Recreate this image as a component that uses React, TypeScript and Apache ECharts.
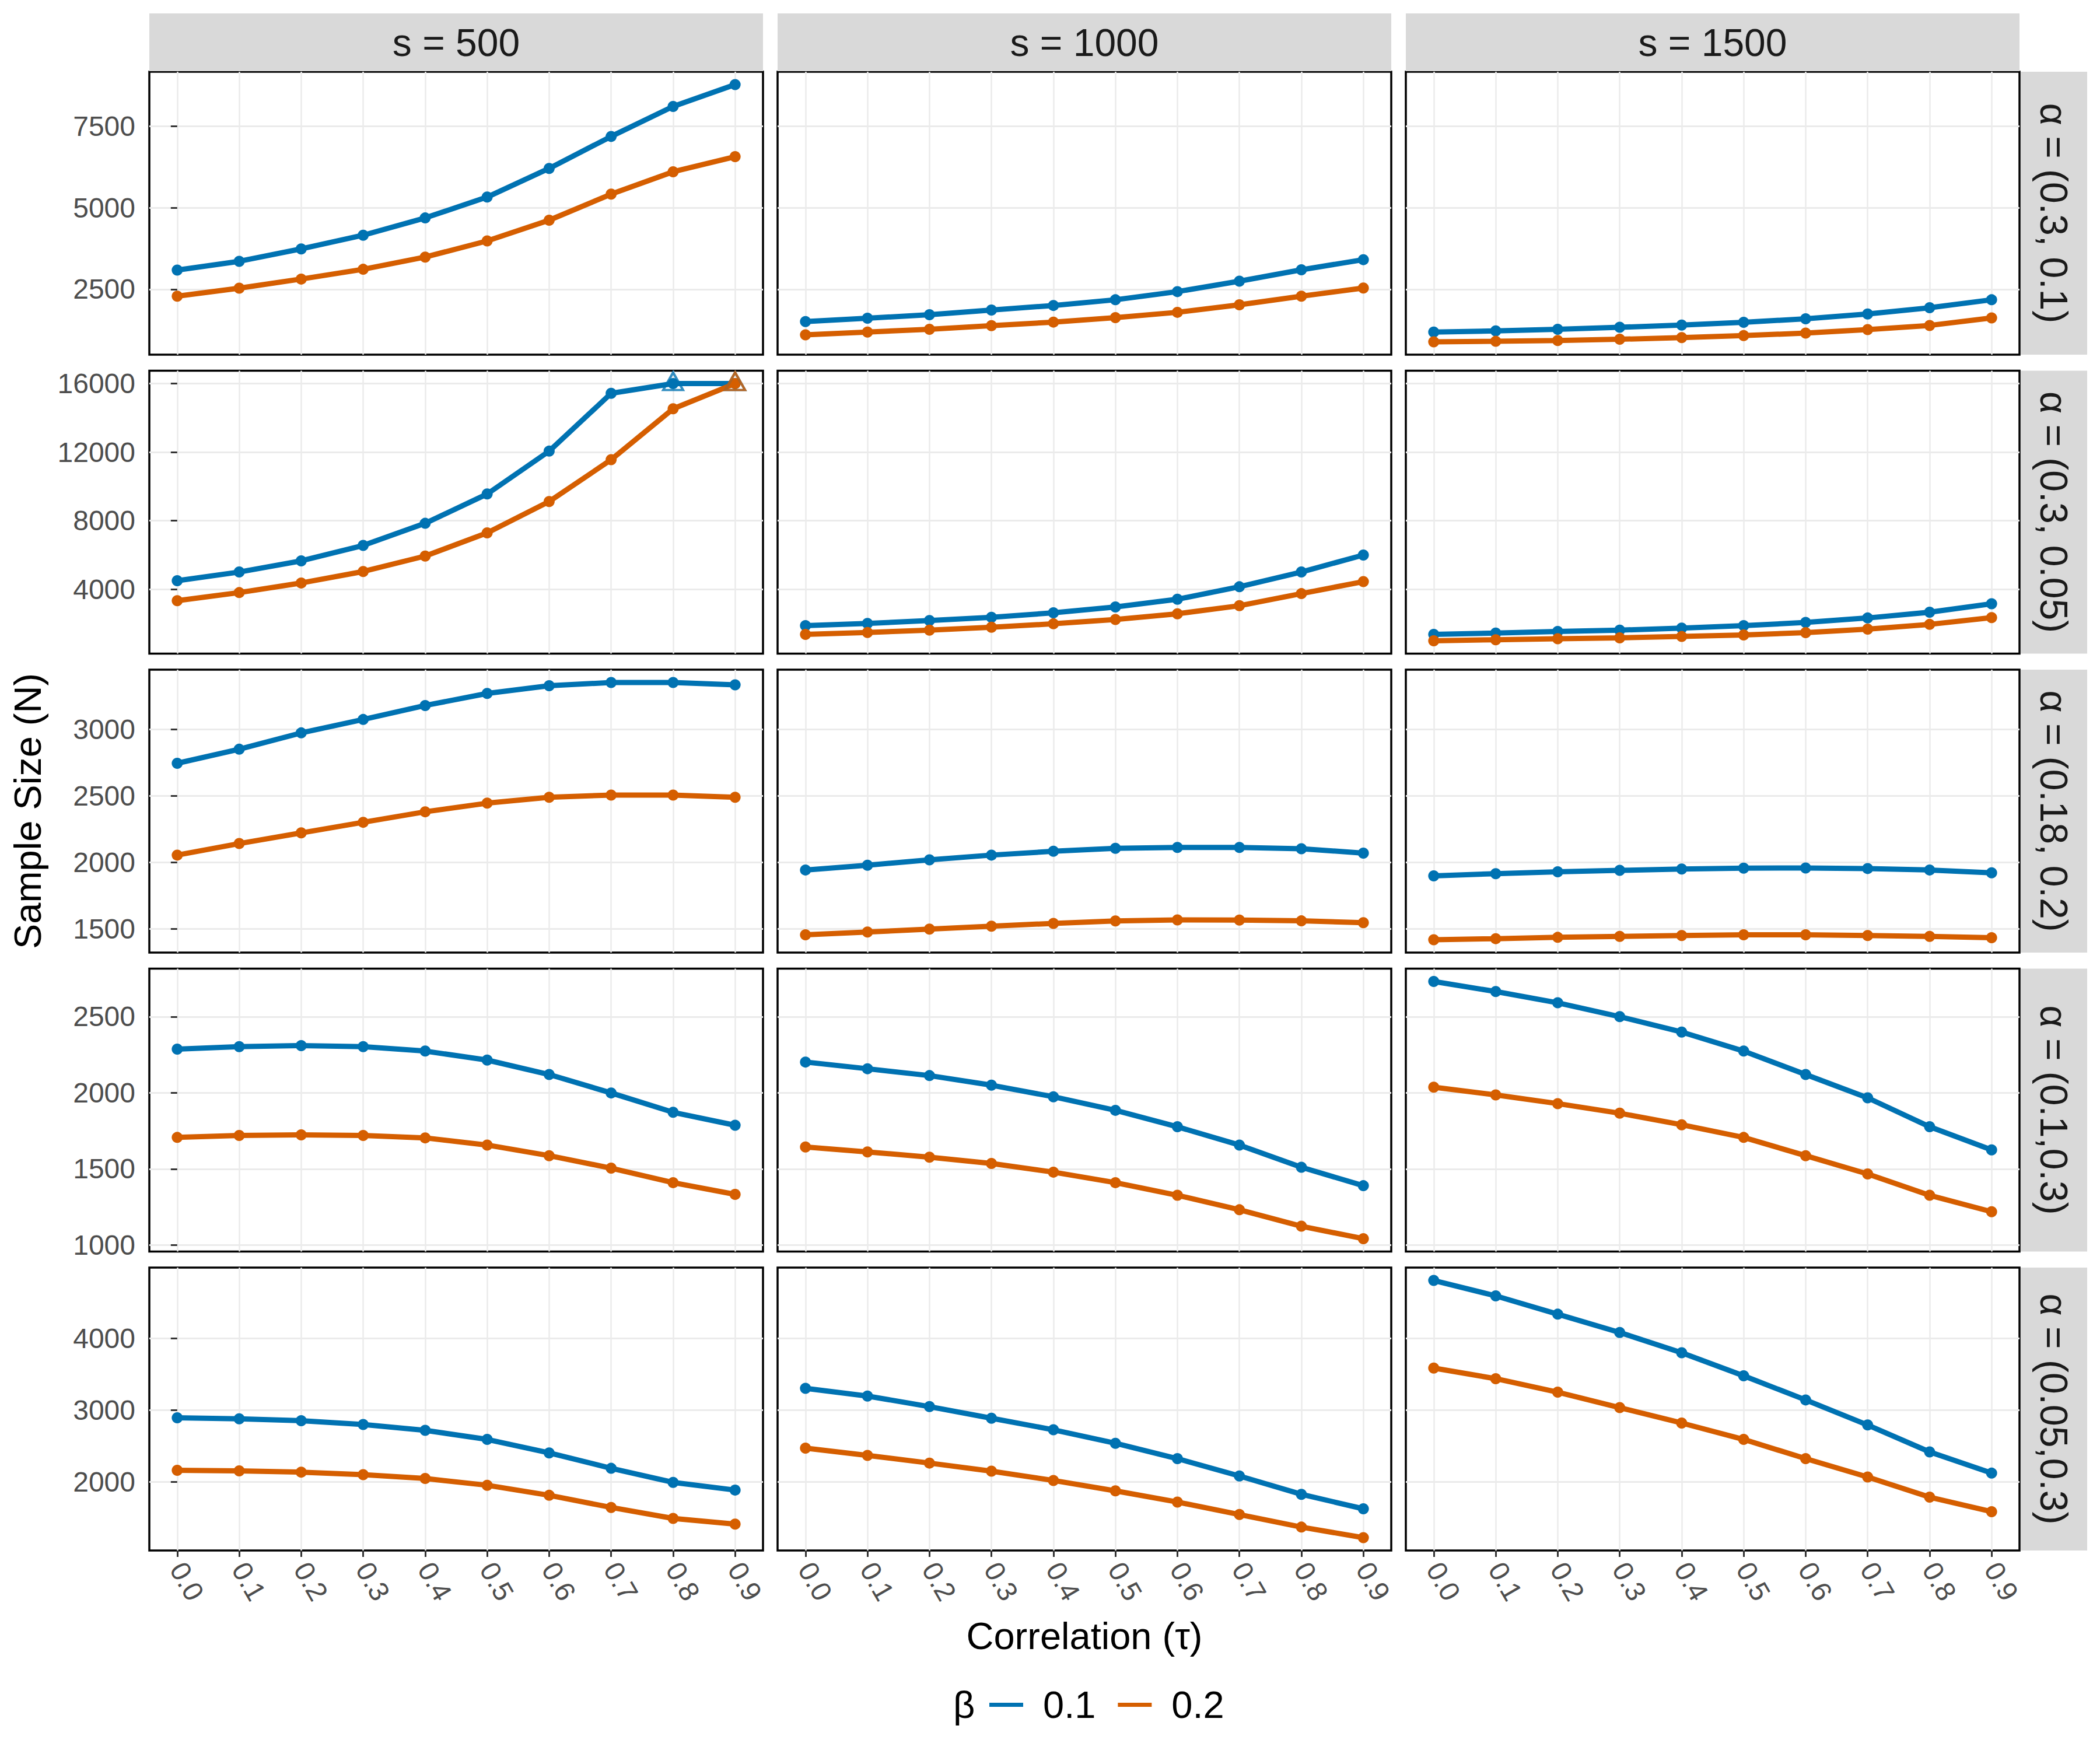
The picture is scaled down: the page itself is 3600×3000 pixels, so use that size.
import React, { useEffect, useRef } from "react";
import * as echarts from "echarts";

// ---------- data ----------
const tau = [0.0, 0.1, 0.2, 0.3, 0.4, 0.5, 0.6, 0.7, 0.8, 0.9];
const sLabels = ["s = 500", "s = 1000", "s = 1500"];
const alphaLabels = [
  "α = (0.3, 0.1)",
  "α = (0.3, 0.05)",
  "α = (0.18, 0.2)",
  "α = (0.1,0.3)",
  "α = (0.05,0.3)",
];
const betaNames = ["0.1", "0.2"];
const capValue = 16000;

// alpha = (0.3, 0.1)
const r1_s500_b01 = [3090, 3360, 3740, 4160, 4690, 5330, 6210, 7190, 8110, 8780];
const r1_s500_b02 = [2290, 2535, 2815, 3115, 3490, 3985, 4620, 5420, 6107, 6570];
const r1_s1000_b01 = [1510, 1615, 1720, 1865, 2005, 2180, 2430, 2750, 3100, 3410];
const r1_s1000_b02 = [1105, 1190, 1275, 1385, 1495, 1630, 1795, 2025, 2290, 2540];
const r1_s1500_b01 = [1190, 1225, 1275, 1335, 1405, 1490, 1595, 1745, 1935, 2180];
const r1_s1500_b02 = [890, 905, 930, 968, 1018, 1080, 1158, 1265, 1392, 1622];

// alpha = (0.3, 0.05)
const r2_s500_b01 = [4500, 5010, 5660, 6560, 7850, 9560, 12060, 15430, 16000, 16000];
const r2_s500_b02 = [3340, 3810, 4370, 5040, 5940, 7290, 9120, 11560, 14530, 16000];
const r2_s1000_b01 = [1880, 2010, 2180, 2370, 2630, 2970, 3420, 4150, 5010, 6000];
const r2_s1000_b02 = [1375, 1485, 1620, 1790, 1990, 2240, 2575, 3045, 3750, 4450];
const r2_s1500_b01 = [1375, 1450, 1540, 1620, 1735, 1880, 2070, 2330, 2665, 3157];
const r2_s1500_b02 = [1000, 1060, 1115, 1170, 1250, 1340, 1475, 1676, 1956, 2350];

// alpha = (0.18, 0.2)
const r3_s500_b01 = [2745, 2851, 2974, 3075, 3180, 3271, 3329, 3353, 3353, 3336];
const r3_s500_b02 = [2054, 2141, 2221, 2301, 2380, 2445, 2489, 2506, 2506, 2489];
const r3_s1000_b01 = [1942, 1978, 2018, 2054, 2083, 2105, 2112, 2112, 2102, 2069];
const r3_s1000_b02 = [1454, 1475, 1497, 1519, 1540, 1558, 1566, 1565, 1559, 1545];
const r3_s1500_b01 = [1898, 1914, 1928, 1939, 1949, 1956, 1957, 1953, 1942, 1921];
const r3_s1500_b02 = [1417, 1425, 1435, 1442, 1449, 1454, 1454, 1449, 1442, 1432];

// alpha = (0.1, 0.3)
const r4_s500_b01 = [2287, 2303, 2310, 2303, 2274, 2215, 2120, 1999, 1872, 1787];
const r4_s500_b02 = [1707, 1720, 1724, 1720, 1704, 1657, 1587, 1505, 1410, 1333];
const r4_s1000_b01 = [2202, 2158, 2113, 2050, 1974, 1885, 1777, 1657, 1511, 1390];
const r4_s1000_b02 = [1644, 1612, 1577, 1536, 1479, 1410, 1327, 1232, 1124, 1042];
const r4_s1500_b01 = [2731, 2665, 2591, 2500, 2399, 2274, 2120, 1967, 1777, 1625];
const r4_s1500_b02 = [2037, 1986, 1929, 1866, 1790, 1707, 1587, 1467, 1327, 1219];

// alpha = (0.05, 0.3)
const r5_s500_b01 = [2894, 2880, 2854, 2800, 2719, 2593, 2405, 2190, 1994, 1887];
const r5_s500_b02 = [2163, 2155, 2137, 2102, 2048, 1954, 1814, 1645, 1492, 1412];
const r5_s1000_b01 = [3305, 3197, 3050, 2888, 2727, 2539, 2325, 2083, 1828, 1626];
const r5_s1000_b02 = [2472, 2370, 2263, 2150, 2021, 1876, 1720, 1546, 1371, 1224];
const r5_s1500_b01 = [4808, 4593, 4338, 4083, 3801, 3479, 3143, 2794, 2419, 2123];
const r5_s1500_b02 = [3587, 3439, 3251, 3036, 2821, 2593, 2325, 2069, 1788, 1586];

const yTicksRow1 = [2500, 5000, 7500];
const yTicksRow2 = [4000, 8000, 12000, 16000];
const yTicksRow3 = [1500, 2000, 2500, 3000];
const yTicksRow4 = [1000, 1500, 2000, 2500];
const yTicksRow5 = [2000, 3000, 4000];

// ---------- assembly ----------
const rows = [
  [[r1_s500_b01, r1_s500_b02], [r1_s1000_b01, r1_s1000_b02], [r1_s1500_b01, r1_s1500_b02]],
  [[r2_s500_b01, r2_s500_b02], [r2_s1000_b01, r2_s1000_b02], [r2_s1500_b01, r2_s1500_b02]],
  [[r3_s500_b01, r3_s500_b02], [r3_s1000_b01, r3_s1000_b02], [r3_s1500_b01, r3_s1500_b02]],
  [[r4_s500_b01, r4_s500_b02], [r4_s1000_b01, r4_s1000_b02], [r4_s1500_b01, r4_s1500_b02]],
  [[r5_s500_b01, r5_s500_b02], [r5_s1000_b01, r5_s1000_b02], [r5_s1500_b01, r5_s1500_b02]],
];
const yTicks = [yTicksRow1, yTicksRow2, yTicksRow3, yTicksRow4, yTicksRow5];

const COLORS = ["#0072B2", "#D55E00"];
const FONT = "'Liberation Sans', Arial, Helvetica, sans-serif";
const colLeft = [256, 1333, 2410];
const panelW = 1052;
const rowTop = [123, 635.5, 1148, 1660.5, 2173];
const panelH = 485;
const stripTop = 23;
const stripH = 99;
const rStripX = 3464;
const rStripW = 114;

function buildOption() {
  const grid: any[] = [];
  const xAxis: any[] = [];
  const yAxis: any[] = [];
  const series: any[] = [];

  rows.forEach((row, r) => {
    const all = row.flat(2) as number[];
    const mn = Math.min(...all);
    const mx = Math.max(...all);
    const pad = (mx - mn) * 0.05;
    row.forEach((panel, c) => {
      const idx = r * 3 + c;
      grid.push({
        left: colLeft[c],
        top: rowTop[r],
        width: panelW,
        height: panelH,
        show: true,
        backgroundColor: "#FFFFFF",
        borderColor: "#000000",
        borderWidth: 3.5,
        containLabel: false,
      });
      xAxis.push({
        type: "value",
        gridIndex: idx,
        min: -0.045,
        max: 0.945,
        axisLine: { show: false },
        axisTick: {
          show: r === 4,
          customValues: tau,
          length: 11,
          lineStyle: { color: "#333333", width: 3 },
        },
        axisLabel: {
          show: r === 4,
          customValues: tau,
          formatter: (v: number) => v.toFixed(1),
          rotate: -60,
          fontSize: 48,
          color: "#4D4D4D",
          fontFamily: FONT,
          margin: 24,
        },
        splitLine: { show: true, lineStyle: { color: "#EBEBEB", width: 2.5 } },
      });
      yAxis.push({
        type: "value",
        gridIndex: idx,
        min: mn - pad,
        max: mx + pad,
        axisLine: { show: false },
        axisTick: {
          show: c === 0,
          customValues: yTicks[r],
          length: 11,
          lineStyle: { color: "#333333", width: 3 },
        },
        axisLabel: {
          show: c === 0,
          customValues: yTicks[r],
          formatter: (v: number) => String(Math.round(v)),
          fontSize: 48,
          color: "#4D4D4D",
          fontFamily: FONT,
          margin: 24,
        },
        splitLine: { show: true, lineStyle: { color: "#EBEBEB", width: 3 } },
      });
      panel.forEach((vals, b) => {
        series.push({
          type: "line",
          name: betaNames[b],
          xAxisIndex: idx,
          yAxisIndex: idx,
          data: tau.map((t, i) => [t, vals[i]]),
          symbol: "circle",
          symbolSize: 19,
          showSymbol: true,
          color: COLORS[b],
          lineStyle: { width: 9, color: COLORS[b] },
          itemStyle: { color: COLORS[b] },
          clip: false,
          z: 3 + b,
        });
      });
      panel.forEach((vals, b) => {
        const capped = tau
          .map((t, i) => [t, vals[i]])
          .filter((p) => p[1] >= capValue);
        if (capped.length) {
          series.push({
            type: "scatter",
            name: betaNames[b],
            xAxisIndex: idx,
            yAxisIndex: idx,
            data: capped,
            symbol: "triangle",
            symbolSize: [34, 30],
            symbolOffset: [0, -4],
            itemStyle: { color: "rgba(0,0,0,0)", borderColor: COLORS[b], borderWidth: 4 },
            z: 6 + b,
            clip: false,
          });
        }
      });
    });
  });

  const graphic: any[] = [];
  sLabels.forEach((lab, c) => {
    graphic.push({
      type: "rect",
      shape: { x: colLeft[c], y: stripTop, width: panelW, height: stripH },
      style: { fill: "#D9D9D9" },
      silent: true,
    });
    graphic.push({
      type: "text",
      x: colLeft[c] + panelW / 2,
      y: stripTop + stripH / 2,
      style: {
        text: lab,
        fontSize: 66,
        fontFamily: FONT,
        fill: "#1A1A1A",
        align: "center",
        verticalAlign: "middle",
      },
      silent: true,
    });
  });
  alphaLabels.forEach((lab, r) => {
    graphic.push({
      type: "rect",
      shape: { x: rStripX, y: rowTop[r], width: rStripW, height: panelH },
      style: { fill: "#D9D9D9" },
      silent: true,
    });
    graphic.push({
      type: "text",
      x: rStripX + rStripW / 2,
      y: rowTop[r] + panelH / 2,
      rotation: -Math.PI / 2,
      style: {
        text: lab,
        fontSize: 66,
        fontFamily: FONT,
        fill: "#1A1A1A",
        align: "center",
        verticalAlign: "middle",
      },
      silent: true,
    });
  });
  graphic.push({
    type: "text",
    x: 47,
    y: (rowTop[0] + rowTop[4] + panelH) / 2,
    rotation: Math.PI / 2,
    style: {
      text: "Sample Size (N)",
      fontSize: 65,
      fontFamily: FONT,
      fill: "#000000",
      align: "center",
      verticalAlign: "middle",
    },
    silent: true,
  });
  graphic.push({
    type: "text",
    x: (colLeft[0] + colLeft[2] + panelW) / 2,
    y: 2804,
    style: {
      text: "Correlation (τ)",
      fontSize: 65,
      fontFamily: FONT,
      fill: "#000000",
      align: "center",
      verticalAlign: "middle",
    },
    silent: true,
  });
  graphic.push({
    type: "text",
    x: 1634,
    y: 2922,
    style: {
      text: "β",
      fontSize: 65,
      fontFamily: FONT,
      fill: "#000000",
      align: "left",
      verticalAlign: "middle",
    },
    silent: true,
  });

  return {
    animation: false,
    backgroundColor: "#FFFFFF",
    textStyle: { fontFamily: FONT },
    grid,
    xAxis,
    yAxis,
    series,
    graphic,
    legend: {
      data: betaNames,
      left: 1696,
      top: 2890,
      orient: "horizontal",
      icon: "rect",
      itemWidth: 58,
      itemHeight: 7,
      itemGap: 38,
      padding: 0,
      textStyle: {
        fontSize: 65,
        color: "#000000",
        fontFamily: FONT,
        padding: [0, 0, 0, 29],
      },
      selectedMode: false,
    },
  };
}

export default function App() {
  const ref = useRef<HTMLDivElement>(null);
  useEffect(() => {
    document.body.style.margin = "0";
    if (!ref.current) return;
    const chart = echarts.init(ref.current, null, { renderer: "svg" });
    chart.setOption(buildOption() as any);
    return () => {
      chart.dispose();
    };
  }, []);
  return <div ref={ref} style={{ width: 3600, height: 3000 }} />;
}
